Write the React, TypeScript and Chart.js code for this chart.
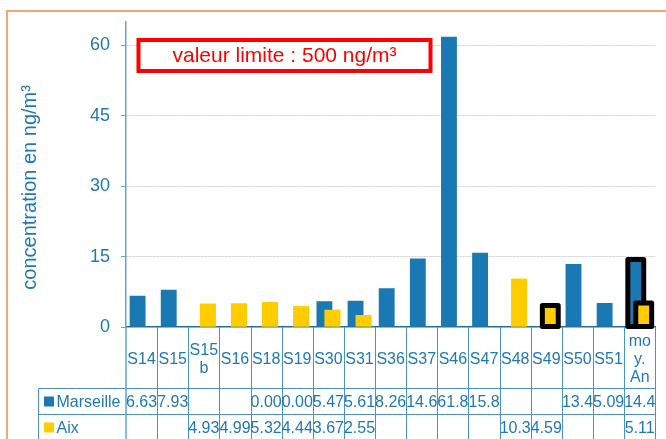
import { useEffect, useRef } from "react";
import { Chart, registerables } from "chart.js";

Chart.register(...registerables);

// ---------- data ----------
const categories: (string | string[])[] = [
  "S14", "S15", ["S15", "b"], "S16", "S18", "S19", "S30", "S31", "S36", "S37",
  "S46", "S47", "S48", "S49", "S50", "S51", ["mo", "y.", "An"],
];
const seriesNames = ["Marseille", "Aix"];
const marseille: (number | null)[] = [
  6.63, 7.93, null, null, 0.0, 0.0, 5.47, 5.61, 8.26, 14.6, 61.8, 15.8, null, null, 13.4, 5.09, 14.4,
];
const aix: (number | null)[] = [
  null, null, 4.93, 4.99, 5.32, 4.44, 3.67, 2.55, null, null, null, null, 10.3, 4.59, null, null, 5.11,
];
// indices of categories whose bars are outlined in black
const highlightedMarseille = [16];
const highlightedAix = [13, 16];
const yTickStep = 15;
const yMax = 65;
const yTitle = "concentration en ng/m³";
const limitText = "valeur limite : 500 ng/m³";

// ---------- styles ----------
const FONT = "'Liberation Sans', Arial, Helvetica, sans-serif";
const TEXT_BLUE = "#1F78B6";
const BAR_BLUE = "#1A78B3";
const BAR_YELLOW = "#FFCC00";
const TABLE_LINE = "#4A91C6";

const customPlugin = {
  id: "custom",
  beforeDraw(chart: any) {
    const ctx = chart.ctx;
    ctx.save();
    ctx.strokeStyle = "#F4A870";
    ctx.lineWidth = 2;
    ctx.strokeRect(7, 11, 720, 520);
    ctx.restore();
  },
  afterDatasetsDraw(chart: any) {
    const ctx = chart.ctx;
    const area = chart.chartArea;
    const outline = (el: any) => {
      if (!el) return;
      const { x, y, base, width } = el.getProps(["x", "y", "base", "width"], true);
      ctx.save();
      ctx.lineWidth = 5;
      ctx.strokeStyle = "#000000";
      ctx.lineJoin = "round";
      ctx.strokeRect(x - width / 2, y, width, base - y);
      ctx.restore();
    };
    const mMeta = chart.getDatasetMeta(0);
    highlightedMarseille.forEach((i) => outline(mMeta.data[i]));
    const aMeta = chart.getDatasetMeta(1);
    ctx.save();
    ctx.beginPath();
    ctx.rect(area.left, area.top, area.right - area.left, area.bottom - area.top);
    ctx.clip();
    aMeta.controller.draw();
    ctx.restore();
    highlightedAix.forEach((i) => outline(aMeta.data[i]));
  },
  afterDraw(chart: any) {
    const ctx = chart.ctx;
    const { left, right, bottom, top } = chart.chartArea;
    const H = chart.height;
    const xScale = chart.scales.x;
    const headerBottom = Math.round(xScale.bottom) + 0.5;
    const n = categories.length;
    const cw = (right - left) / n;
    const rowH = 26;
    const tableLeft = 38.5;

    const line = (x1: number, y1: number, x2: number, y2: number) => {
      ctx.beginPath();
      ctx.moveTo(x1, y1);
      ctx.lineTo(x2, y2);
      ctx.stroke();
    };

    ctx.save();
    ctx.lineWidth = 1;
    ctx.strokeStyle = TABLE_LINE;
    for (let i = 1; i <= n; i++) {
      const x = Math.round(left + i * cw) + 0.5;
      line(x, bottom, x, H);
    }
    for (let r = 0; r < 2; r++) {
      const y = headerBottom + r * rowH;
      line(tableLeft, y, right, y);
    }
    line(tableLeft, headerBottom, tableLeft, H);
    ctx.strokeStyle = "#5DA5D8";
    ctx.lineWidth = 1.5;
    line(left, bottom, left, H);

    // rows
    const rows = [
      { name: seriesNames[0], color: BAR_BLUE, data: marseille },
      { name: seriesNames[1], color: BAR_YELLOW, data: aix },
    ];
    ctx.font = `16px ${FONT}`;
    ctx.textBaseline = "middle";
    rows.forEach((row, r) => {
      const cy = headerBottom + r * rowH + rowH / 2;
      ctx.fillStyle = row.color;
      ctx.fillRect(tableLeft + 5.5, cy - 5, 10, 10);
      ctx.fillStyle = TEXT_BLUE;
      ctx.textAlign = "left";
      ctx.fillText(row.name, tableLeft + 18, cy + 1);
      ctx.textAlign = "center";
      row.data.forEach((v, i) => {
        if (v === null) return;
        const cx = left + (i + 0.5) * cw;
        ctx.fillText(v.toPrecision(3), cx, cy + 1);
      });
    });

    // y axis title
    ctx.save();
    ctx.translate(30, (top + bottom) / 2 + 13);
    ctx.rotate(-Math.PI / 2);
    ctx.font = `20px ${FONT}`;
    ctx.fillStyle = TEXT_BLUE;
    ctx.textAlign = "center";
    ctx.textBaseline = "middle";
    ctx.fillText(yTitle, 0, 0);
    ctx.restore();

    // limit value box
    const bx = 138.5, by = 40, bw = 292, bh = 31;
    ctx.fillStyle = "#FFFFFF";
    ctx.fillRect(bx, by, bw, bh);
    ctx.strokeStyle = "#FF0000";
    ctx.lineWidth = 4;
    ctx.strokeRect(bx, by, bw, bh);
    ctx.fillStyle = "#FF0000";
    ctx.font = `21px ${FONT}`;
    ctx.textAlign = "center";
    ctx.textBaseline = "middle";
    ctx.fillText(limitText, bx + bw / 2, by + bh / 2 + 1);
    ctx.restore();
  },
};

export default function App() {
  const ref = useRef<HTMLCanvasElement | null>(null);

  useEffect(() => {
    if (!ref.current) return;
    Chart.defaults.font.family = FONT;
    const chart = new Chart(ref.current, {
      type: "bar",
      data: {
        labels: categories as any,
        datasets: [
          {
            label: seriesNames[0],
            data: marseille,
            backgroundColor: BAR_BLUE,
            borderWidth: 0,
          },
          {
            label: seriesNames[1],
            data: aix,
            backgroundColor: BAR_YELLOW,
            borderWidth: 0,
          },
        ],
      },
      options: {
        responsive: false,
        animation: false,
        devicePixelRatio: 1,
        layout: { padding: { top: 20, bottom: 51, left: 0, right: 5 } },
        datasets: {
          bar: { categoryPercentage: 0.51, barPercentage: 2 },
        },
        plugins: {
          legend: { display: false },
          tooltip: { enabled: false },
        },
        scales: {
          x: {
            offset: true,
            grid: { display: false, drawTicks: false },
            border: { display: true, color: "#1F6FA8", width: 1.5 },
            afterFit: (s: any) => {
              s.height = 61;
            },
            ticks: {
              autoSkip: false,
              maxRotation: 0,
              minRotation: 0,
              crossAlign: "center",
              padding: 15,
              color: TEXT_BLUE,
              font: { size: 16, family: FONT, lineHeight: 1.125 },
            },
          },
          y: {
            min: 0,
            max: yMax,
            afterFit: (s: any) => {
              s.width = 126;
            },
            border: { display: true, color: "#5DA5D8", width: 1.5, dash: [2, 1] },
            grid: {
              color: (c: any) => (c.tick && c.tick.value === 0 ? "rgba(0,0,0,0)" : "#CFCFCF"),
              tickColor: "#5DA5D8",
              tickLength: 5,
              tickBorderDash: [],
              lineWidth: 1,
            },
            ticks: {
              stepSize: yTickStep,
              includeBounds: false,
              padding: 11,
              color: TEXT_BLUE,
              font: { size: 18, family: FONT },
            },
          },
        },
      },
      plugins: [customPlugin],
    } as any);
    return () => chart.destroy();
  }, []);

  return (
    <div style={{ position: "fixed", left: 0, top: 0, width: 666, height: 439, background: "#fff" }}>
      <canvas ref={ref} width={666} height={439} style={{ display: "block" }} />
    </div>
  );
}
